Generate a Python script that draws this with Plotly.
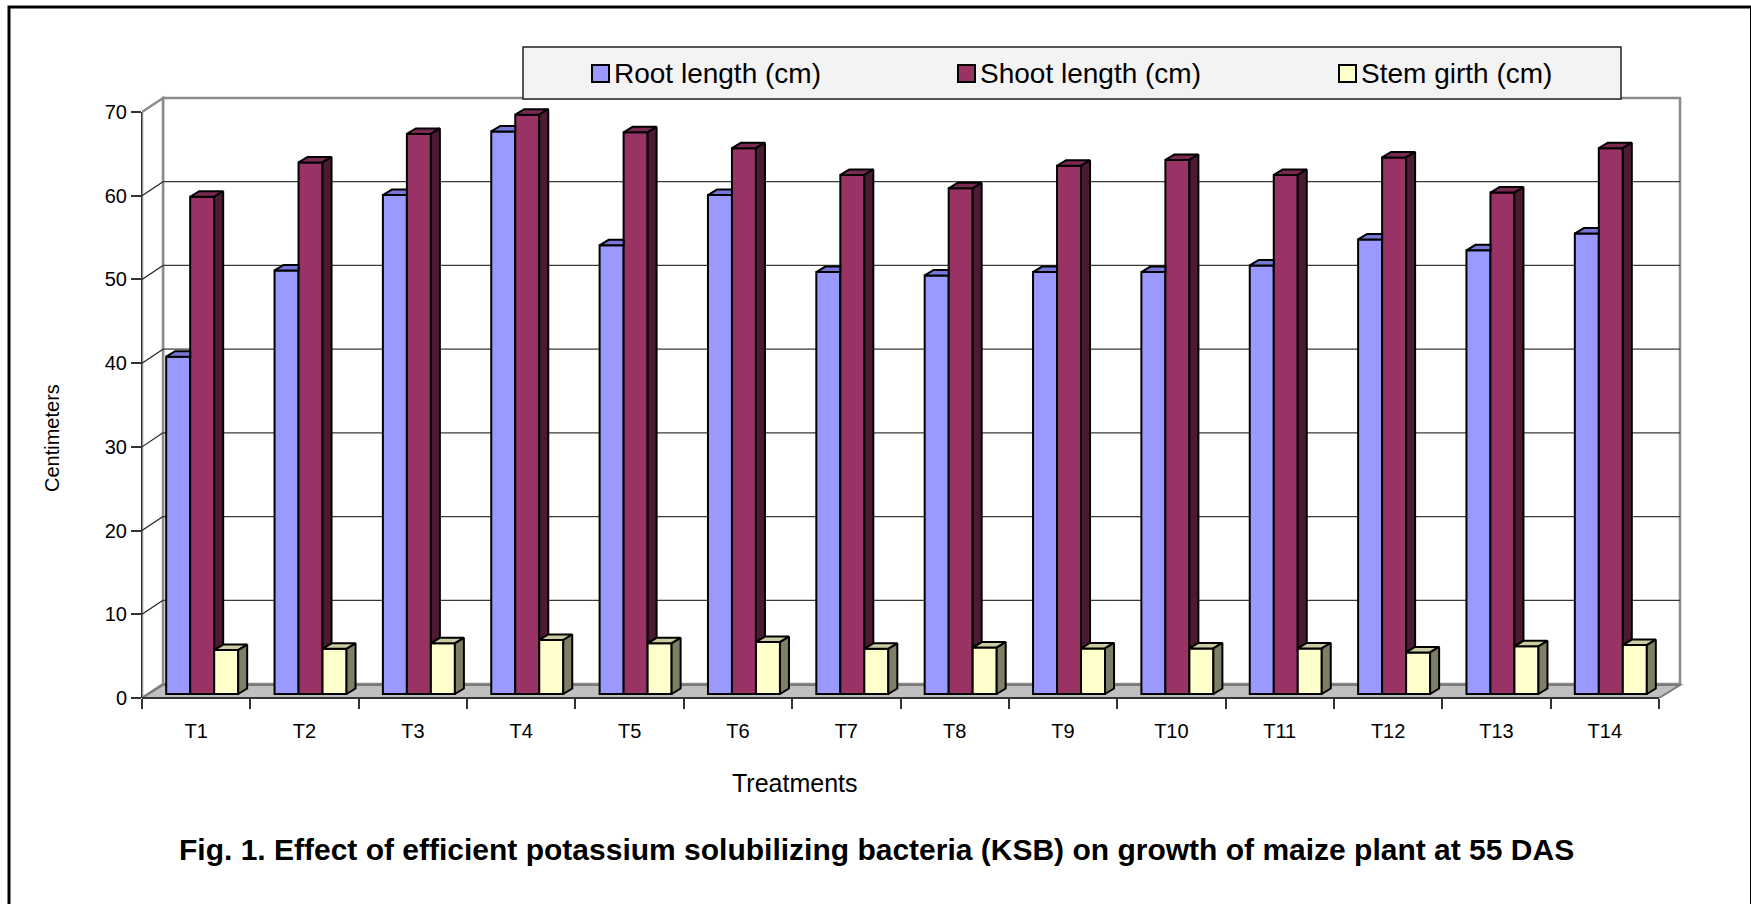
import plotly.graph_objects as go

# ---------------- data ----------------
categories = ["T1", "T2", "T3", "T4", "T5", "T6", "T7", "T8", "T9", "T10", "T11", "T12", "T13", "T14"]
root_length = [40.3, 50.6, 59.6, 67.2, 53.6, 59.6, 50.4, 50.0, 50.4, 50.4, 51.2, 54.3, 53.0, 55.0]
shoot_length = [59.4, 63.5, 66.9, 69.2, 67.1, 65.2, 62.0, 60.4, 63.1, 63.8, 62.0, 64.1, 59.9, 65.2]
stem_girth = [5.25, 5.4, 6.05, 6.45, 6.05, 6.2, 5.4, 5.55, 5.45, 5.45, 5.45, 4.97, 5.7, 5.85]
series_names = ["Root length (cm)", "Shoot length (cm)", "Stem girth (cm)"]
y_ticks = [0, 10, 20, 30, 40, 50, 60, 70]
x_title = "Treatments"
y_title = "Centimeters"
fig_title = "Fig. 1. Effect of efficient potassium solubilizing bacteria (KSB) on growth of maize plant at 55 DAS"

# ---------------- styles / geometry ----------------
FONT = "Liberation Sans, Arial, Helvetica, sans-serif"
front_cols = ["#9999FF", "#993366", "#FFFFCC"]
top_cols = ["#7777D9", "#7A2952", "#CCCCA3"]
side_cols = ["#5C5CA6", "#4C1A33", "#7F7F66"]

W, H = 1751, 904
PL, PR, PT, PB = 142, 1683, 94, 698      # plot area box (px)
FRONT_R = 1659                            # px of front-right floor corner
Y_TOP_TICK = 112                          # px of the 70 tick
n = len(categories)
ppx = (FRONT_R - PL) / n
ppy = (PB - Y_TOP_TICK) / y_ticks[-1]
x_lo = -0.5
x_hi = x_lo + (PR - PL) / ppx
y_lo = 0
y_hi = (PB - PT) / ppy

WDX, WDY = 21 / ppx, 14 / ppy       # depth of the walls
FDY = 13 / ppy
BOX, BOY = 6 / ppx, 4 / ppy         # offset of bar front plane
BDX, BDY = 9 / ppx, 5.5 / ppy       # depth of the bars
BW = 24 / ppx                       # bar width


def pxx(px):
    return (px - PL) / (PR - PL)


def pxy(py):
    return (PB - py) / (PB - PT)


fig = go.Figure()

xs = [i + BOX for i in range(n)]
series = [root_length, shoot_length, stem_girth]

# front faces (bars)
for k, vals in enumerate(series):
    fig.add_trace(go.Bar(
        x=xs, y=vals, base=BOY, width=BW, offset=(k - 1.5) * BW,
        name=series_names[k], showlegend=False,
        marker=dict(color=front_cols[k], line=dict(color="black", width=2)),
        hovertemplate="%{customdata}<extra></extra>",
        customdata=[f"{c}: {v}" for c, v in zip(categories, vals)],
    ))

# 3D top / side faces computed from the data
tops = [[[], []] for _ in range(3)]
sides = [[[], []] for _ in range(3)]


def add_poly(store, pts):
    for (a, b) in pts:
        store[0].append(a)
        store[1].append(b)
    store[0].append(pts[0][0])
    store[1].append(pts[0][1])
    store[0].append(None)
    store[1].append(None)


for i in range(n):
    xl = [xs[i] + (k - 1.5) * BW for k in range(3)]
    xr = [v + BW for v in xl]
    t = [BOY + series[k][i] for k in range(3)]
    # root top (right part hidden behind the shoot bar)
    add_poly(tops[0], [(xl[0], t[0]), (xr[0], t[0]), (xr[0], t[0] + BDY), (xl[0] + BDX, t[0] + BDY)])
    # shoot top
    add_poly(tops[1], [(xl[1], t[1]), (xr[1], t[1]), (xr[1] + BDX, t[1] + BDY), (xl[1] + BDX, t[1] + BDY)])
    # shoot side (lower part hidden behind stem bar)
    add_poly(sides[1], [(xr[1], t[2]), (xr[1] + BDX, t[2] + BDY), (xr[1] + BDX, t[1] + BDY), (xr[1], t[1])])
    # stem top and side
    add_poly(tops[2], [(xl[2], t[2]), (xr[2], t[2]), (xr[2] + BDX, t[2] + BDY), (xl[2] + BDX, t[2] + BDY)])
    add_poly(sides[2], [(xr[2], BOY), (xr[2] + BDX, BOY + BDY), (xr[2] + BDX, t[2] + BDY), (xr[2], t[2])])

for k in range(3):
    for store, cols in ((tops[k], top_cols), (sides[k], side_cols)):
        if not store[0]:
            continue
        fig.add_trace(go.Scatter(
            x=store[0], y=store[1], mode="lines", fill="toself",
            fillcolor=cols[k], line=dict(color="black", width=2),
            showlegend=False, hoverinfo="skip",
        ))

shapes = []
xb0, xb1 = -0.5, n - 0.5
# back wall
shapes.append(dict(type="rect", xref="x", yref="y", x0=xb0 + WDX, x1=xb1 + WDX, y0=WDY, y1=y_ticks[-1] + WDY,
                   fillcolor="white", line=dict(color="#8C8C8C", width=2.5), layer="below"))
# left wall
shapes.append(dict(type="path", xref="x", yref="y",
                   path=f"M{xb0},0 L{xb0 + WDX},{WDY} L{xb0 + WDX},{y_ticks[-1] + WDY} L{xb0},{y_ticks[-1]} Z",
                   fillcolor="white", line=dict(color="#8C8C8C", width=2.5), layer="below"))
# gridlines on back wall + diagonals on left wall
for v in y_ticks[1:-1]:
    shapes.append(dict(type="line", xref="x", yref="y", x0=xb0 + WDX, x1=xb1 + WDX, y0=v + WDY, y1=v + WDY,
                       line=dict(color="#3A3A3A", width=1.2), layer="below"))
    shapes.append(dict(type="line", xref="x", yref="y", x0=xb0, x1=xb0 + WDX, y0=v, y1=v + WDY,
                       line=dict(color="#222222", width=1.2), layer="below"))
# floor
shapes.append(dict(type="path", xref="x", yref="y",
                   path=f"M{xb0},0 L{xb1},0 L{xb1 + WDX},{FDY} L{xb0 + WDX},{FDY} Z",
                   fillcolor="#C0C0C0", line=dict(color="#7A7A7A", width=2), layer="below"))
# front axis lines
shapes.append(dict(type="line", xref="paper", yref="y", x0=0, x1=0, y0=0, y1=y_ticks[-1],
                   line=dict(color="#333333", width=2), layer="below"))
shapes.append(dict(type="line", xref="x", yref="paper", x0=xb0, x1=xb1, y0=0, y1=0,
                   line=dict(color="#333333", width=2)))
# outer frame
shapes.append(dict(type="rect", xref="paper", yref="paper", x0=pxx(9), x1=pxx(1751.5), y0=pxy(7), y1=pxy(912),
                   line=dict(color="black", width=3), fillcolor="rgba(0,0,0,0)"))

# legend box (manual)
shapes.append(dict(type="rect", xref="paper", yref="paper", x0=pxx(523), x1=pxx(1621), y0=pxy(47), y1=pxy(99),
                   fillcolor="#F3F3F3", line=dict(color="#222222", width=1.5)))
annotations = []
leg_marker_x = [592, 958, 1339]
for k in range(3):
    mx = leg_marker_x[k]
    shapes.append(dict(type="rect", xref="paper", yref="paper", x0=pxx(mx), x1=pxx(mx + 17), y0=pxy(65), y1=pxy(82),
                       fillcolor=front_cols[k], line=dict(color="black", width=2)))
    annotations.append(dict(xref="paper", yref="paper", x=pxx(mx + 20), y=pxy(73.5), xanchor="left", yanchor="middle",
                            text=series_names[k], showarrow=False, font=dict(family=FONT, size=28, color="black")))

annotations.append(dict(xref="paper", yref="paper", x=pxx(795), y=pxy(783), xanchor="center", yanchor="middle",
                        text=x_title, showarrow=False, font=dict(family=FONT, size=25, color="black")))
annotations.append(dict(xref="paper", yref="paper", x=pxx(52), y=pxy(438), xanchor="center", yanchor="middle",
                        text=y_title, textangle=-90, showarrow=False, font=dict(family=FONT, size=20, color="black")))
annotations.append(dict(xref="paper", yref="paper", x=pxx(876), y=pxy(849), xanchor="center", yanchor="middle",
                        text=f"<b>{fig_title}</b>", showarrow=False, font=dict(family=FONT, size=30, color="black")))

fig.update_layout(
    width=W, height=H,
    margin=dict(l=PL, r=W - PR, t=PT, b=H - PB, pad=0),
    paper_bgcolor="white", plot_bgcolor="rgba(0,0,0,0)",
    barmode="overlay",
    showlegend=False,
    shapes=shapes,
    annotations=annotations,
    font=dict(family=FONT, color="black"),
    xaxis=dict(range=[x_lo, x_hi], tickvals=list(range(n)), ticktext=categories,
               showgrid=False, zeroline=False, showline=False,
               ticks="outside", ticklen=10, tickcolor="rgba(0,0,0,0)", ticklabelstandoff=5,
               tickfont=dict(family=FONT, size=20, color="black"), fixedrange=True),
    xaxis2=dict(range=[x_lo, x_hi], overlaying="x", anchor="y", side="bottom",
                tickvals=[i - 0.5 for i in range(n + 1)], showticklabels=False,
                showgrid=False, zeroline=False, showline=False,
                ticks="outside", ticklen=10, tickwidth=1.5, tickcolor="#333333", fixedrange=True),
    yaxis=dict(range=[y_lo, y_hi], tickvals=y_ticks, showgrid=False, zeroline=False, showline=False,
               ticks="outside", ticklen=10, tickwidth=1.5, tickcolor="#333333",
               tickfont=dict(family=FONT, size=20, color="black"), fixedrange=True),
)

# dummy invisible trace so the overlay axis is drawn
fig.add_trace(go.Scatter(x=[x_lo], y=[0], xaxis="x2", mode="markers", marker=dict(opacity=0),
                         showlegend=False, hoverinfo="skip"))

fig.write_html("out.html")
